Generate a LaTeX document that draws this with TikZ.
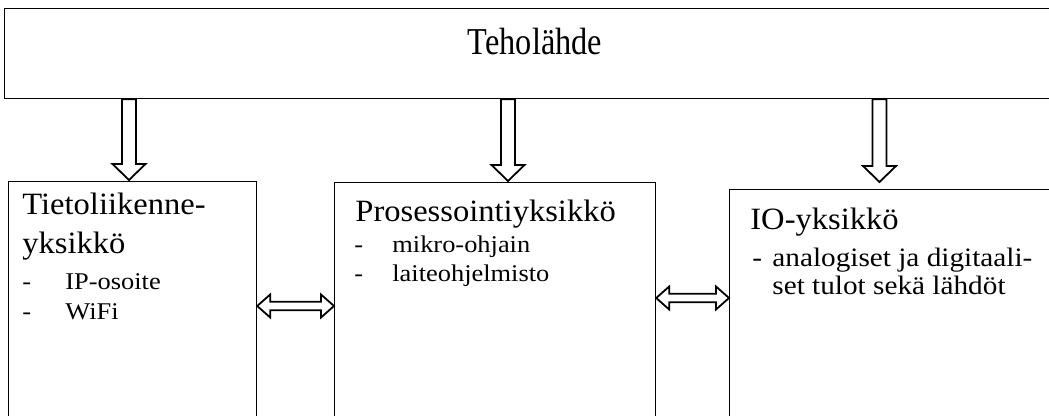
\documentclass[tikz,border=0pt]{standalone}
\usepackage{fontspec}
\setmainfont{Liberation Serif}
\newfontfamily\headfont[FakeStretch=0.85]{Liberation Serif}
\newfontfamily\titlefont[FakeStretch=1.05]{Liberation Serif}
\newfontfamily\itemfont[FakeStretch=1.1]{Liberation Serif}
\usetikzlibrary{calc}

% block arrow pointing down from #1 to #2
\newcommand\blockdown[2]{%
  \draw[blockarrow] let \p1=(#1), \p2=(#2) in
    (\x1-3.5pt,\y1) -- (\x1+3.5pt,\y1) -- (\x1+3.5pt,\y2+8pt)
    -- (\x1+8.25pt,\y2+8pt) -- (\x1,\y2) -- (\x1-8.25pt,\y2+8pt)
    -- (\x1-3.5pt,\y2+8pt) -- cycle;}
% two-headed block arrow between #1 and #2
\newcommand\blockboth[2]{%
  \draw[blockarrow] let \p1=(#1), \p2=(#2) in
    (\x1,\y1) -- (\x1+6.5pt,\y1+5.75pt) -- (\x1+6.5pt,\y1+2.125pt)
    -- (\x2-6.5pt,\y1+2.125pt) -- (\x2-6.5pt,\y1+5.75pt) -- (\x2,\y1)
    -- (\x2-6.5pt,\y1-5.75pt) -- (\x2-6.5pt,\y1-2.125pt)
    -- (\x1+6.5pt,\y1-2.125pt) -- (\x1+6.5pt,\y1-5.75pt) -- cycle;}

\tikzset{
  unitbox/.style={draw, line width=0.6pt, rectangle, inner sep=0pt, anchor=north west},
  blockarrow/.style={draw, line width=0.9pt, fill=white, line join=miter},
  head/.style={font=\headfont\fontsize{19pt}{23pt}\selectfont, inner sep=0pt, anchor=base},
  ttl/.style={font=\titlefont\fontsize{15.5pt}{18pt}\selectfont, inner sep=0pt, anchor=base west},
  itm/.style={font=\itemfont\fontsize{12pt}{14pt}\selectfont, inner sep=0pt, anchor=base west},
  itmio/.style={font=\itemfont\fontsize{13.3pt}{15pt}\selectfont, inner sep=0pt, anchor=base west},
}

\begin{document}
\begin{tikzpicture}[x=0.5pt, y=-0.5pt]
  \useasboundingbox (0,0) rectangle (1049,416);
  \clip (0,0) rectangle (1049,416);

  % power supply across the top
  \node[unitbox, minimum width=528.25pt, minimum height=45pt] (power) at (3.5,8) {};
  \node[head] (powerlbl) at (535,55) {Teholähde};

  % the three units
  \node[unitbox, minimum width=124.25pt, minimum height=130pt] (comm) at (7.5,181) {};
  \node[unitbox, minimum width=160.5pt, minimum height=130pt] (proc) at (334,182) {};
  \node[unitbox, minimum width=170pt, minimum height=130pt] (io) at (729,189) {};

  % communication unit
  \node[ttl] (c1) at (22,215) {Tietoliikenne-};
  \node[ttl] (c2) at (22,254) {yksikkö};
  \node[itm] (c3d) at (22,290) {-};
  \node[itm] (c3) at (65,290) {IP-osoite};
  \node[itm] (c4d) at (22,320) {-};
  \node[itm] (c4) at (65,320) {WiFi};

  % processing unit
  \node[ttl] (p1) at (355,222) {Prosessointiyksikkö};
  \node[itm] (p2d) at (354,253) {-};
  \node[itm] (p2) at (392,253) {mikro-ohjain};
  \node[itm] (p3d) at (354,282) {-};
  \node[itm] (p3) at (392,282) {laiteohjelmisto};

  % I/O unit
  \node[ttl] (i1) at (750,230) {IO-yksikkö};
  \node[itmio] (i2d) at (752,267) {-};
  \node[itmio] (i2) at (772,267) {analogiset ja digitaali-};
  \node[itmio] (i3) at (772,295) {set tulot sekä lähdöt};

  % arrow tips
  \coordinate (tipc) at (129,180);
  \coordinate (tipp) at (508,181);
  \coordinate (tipi) at (879.5,182);

  % supply arrows
  \blockdown{power.south -| tipc}{tipc}
  \blockdown{power.south -| tipp}{tipp}
  \blockdown{power.south -| tipi}{tipi}

  % data links between units
  \blockboth{comm.east |- 0,306}{proc.west |- 0,306}
  \blockboth{proc.east |- 0,298}{io.west |- 0,298}
\end{tikzpicture}
\end{document}
